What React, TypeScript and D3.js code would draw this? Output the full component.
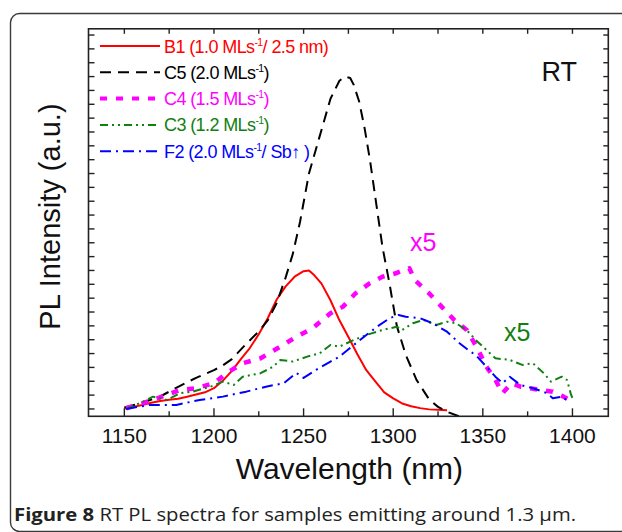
import React from "react";
import * as d3 from "d3";

// ---------- data (wavelength nm, PL intensity a.u.) ----------
const seriesNames = ["B1", "C5", "C4", "C3", "F2"];

const b1Data: [number, number][] = [
  [1150, 0.03], [1155, 0.15], [1160, 0.28], [1165, 0.45], [1170, 0.58], [1175, 0.66],
  [1180, 0.74], [1185, 0.88], [1190, 1.05], [1195, 1.2], [1200, 1.5], [1205, 2.05],
  [1210, 2.75], [1215, 3.6], [1220, 4.4], [1225, 5.4], [1230, 6.55], [1235, 7.9],
  [1240, 8.85], [1245, 9.55], [1250, 9.95], [1253, 10.0], [1256, 9.65], [1260, 9.05],
  [1265, 7.85], [1270, 6.4], [1275, 5.2], [1280, 3.95], [1285, 2.8], [1290, 2.0],
  [1295, 1.2], [1300, 0.77], [1305, 0.4], [1310, 0.2], [1315, 0.06], [1320, -0.03],
  [1325, -0.06], [1330, -0.1],
];

const c5Data: [number, number][] = [
  [1150, 0.1], [1160, 0.45], [1170, 0.9], [1180, 1.6], [1190, 2.25], [1200, 2.8],
  [1205, 3.15], [1210, 3.6], [1218, 4.7], [1225, 5.6], [1230, 6.4], [1235, 7.65],
  [1240, 9.5], [1244, 11.2], [1248, 13.5], [1253, 17.0], [1259, 19.7], [1265, 22.4],
  [1270, 23.7], [1273, 24.0], [1276, 23.9], [1278, 23.4], [1281, 22.2], [1284, 20.3],
  [1287, 18.0], [1291, 14.4], [1294, 11.7], [1298, 9.0], [1302, 6.0], [1307, 3.9],
  [1313, 2.1], [1320, 0.7], [1325, 0.15], [1330, -0.2], [1337, -0.55], [1343, -0.7],
];

const c4Data: [number, number][] = [
  [1151, 0.05], [1166, 0.65], [1181, 1.37], [1190, 1.5], [1200, 1.86], [1207, 2.58],
  [1216, 3.3], [1226, 3.66], [1237, 4.5], [1246, 5.22], [1255, 5.83], [1265, 6.91],
  [1272, 7.39], [1279, 8.35], [1287, 9.08], [1294, 9.55], [1301, 9.78], [1309, 10.16],
  [1312, 9.31], [1320, 8.35], [1327, 7.39], [1334, 6.43], [1341, 5.7], [1347, 4.38],
  [1352, 3.05], [1357, 2.1], [1361, 1.13], [1366, 1.86], [1371, 1.61], [1376, 1.5],
  [1382, 1.37], [1389, 1.25], [1395, 0.89], [1400, 0.53],
];

const c3Data: [number, number][] = [
  [1151, 0.0], [1160, 0.5], [1166, 0.89], [1174, 0.65], [1181, 1.13], [1188, 1.25],
  [1198, 1.61], [1205, 1.97], [1211, 1.73], [1216, 2.33], [1226, 2.58], [1233, 3.05],
  [1237, 3.54], [1244, 3.42], [1252, 3.78], [1259, 4.02], [1265, 4.62], [1270, 4.5],
  [1278, 4.98], [1285, 5.34], [1294, 5.7], [1302, 5.94], [1305, 5.7], [1311, 6.19],
  [1317, 6.43], [1324, 6.06], [1330, 6.3], [1335, 6.19], [1341, 5.7], [1346, 4.98],
  [1352, 4.26], [1357, 3.66], [1365, 3.54], [1372, 3.18], [1378, 3.3], [1384, 2.58],
  [1388, 1.97], [1394, 2.33], [1397, 2.09], [1399, 1.13], [1400, 0.77],
];

const f2Data: [number, number][] = [
  [1151, 0.0], [1164, 0.29], [1179, 0.29], [1192, 0.65], [1205, 0.89], [1218, 1.25],
  [1229, 1.61], [1239, 1.86], [1246, 2.6], [1250, 2.24], [1257, 2.82], [1265, 3.42],
  [1270, 3.78], [1278, 4.62], [1285, 5.34], [1291, 5.94], [1298, 6.55], [1303, 6.79],
  [1307, 6.66], [1315, 6.55], [1322, 6.19], [1330, 5.58], [1337, 4.74], [1343, 4.14],
  [1346, 3.9], [1352, 3.05], [1357, 2.33], [1361, 1.86], [1365, 2.33], [1371, 1.73],
  [1378, 1.5], [1386, 1.13], [1389, 0.77], [1394, 0.89], [1398, 0.53],
];

const xMajorTicks = [1150, 1200, 1250, 1300, 1350, 1400];
const xMinorTicks = [1175, 1225, 1275, 1325, 1375];
const yTickValues = [
  0, 1, 2, 3, 4, 5, 6, 7, 8, 9, 10, 11, 12, 13, 14, 15, 16, 17, 18, 19, 20, 21, 22, 23, 24, 25, 26, 27,
];

// ---------- layout ----------
const W = 622;
const H = 532;
const L = 88.5;
const R = 608.3;
const T = 28.8;
const B = 416.3;

const FONT = "'Liberation Sans', Arial, Helvetica, sans-serif";

type Style = { color: string; width: number; dash?: string };
const styles: Record<string, Style> = {
  B1: { color: "#ff0000", width: 2 },
  C5: { color: "#000000", width: 2, dash: "11,7" },
  C4: { color: "#ff00ff", width: 4.5, dash: "7,9" },
  C3: { color: "#118011", width: 2, dash: "8,4,2,4,2,4" },
  F2: { color: "#0000ff", width: 2, dash: "11,5,2,5" },
};

const dataByName: Record<string, [number, number][]> = {
  B1: b1Data,
  C5: c5Data,
  C4: c4Data,
  C3: c3Data,
  F2: f2Data,
};

export default function App() {
  const x = d3.scaleLinear().domain([1130, 1420]).range([L, R]);
  const y = d3.scaleLinear().domain([-0.53, 27.45]).range([B, T]);
  const line = d3
    .line<[number, number]>()
    .x((d) => x(d[0]))
    .y((d) => y(d[1]));

  const legendY0 = 46;
  const legendDy = 26.3;

  const legendLabel = (name: string) => {
    const sup = (
      <tspan fontSize={10.5} dy={-7}>
        -1
      </tspan>
    );
    const back = (s: string) => <tspan dy={7}>{s}</tspan>;
    switch (name) {
      case "B1":
        return (
          <>
            B1 (1.0 MLs{sup}
            {back("/ 2.5 nm)")}
          </>
        );
      case "C5":
        return (
          <>
            C5 (2.0 MLs{sup}
            {back(")")}
          </>
        );
      case "C4":
        return (
          <>
            C4 (1.5 MLs{sup}
            {back(")")}
          </>
        );
      case "C3":
        return (
          <>
            C3 (1.2 MLs{sup}
            {back(")")}
          </>
        );
      default:
        return (
          <>
            F2 (2.0 MLs{sup}
            {back("/ Sb\u2191 )")}
          </>
        );
    }
  };

  return (
    <svg
      width={W}
      height={H}
      style={{ position: "absolute", left: 0, top: 0, background: "#fff" }}
      fontFamily={FONT}
    >
      <rect x={0} y={0} width={W} height={H} fill="#fff" />
      {/* outer caption box */}
      <rect
        x={10.5}
        y={13.5}
        width={700}
        height={518}
        rx={9}
        fill="none"
        stroke="#3a3a3a"
        strokeWidth={1.4}
      />
      <defs>
        <clipPath id="plotClip">
          <rect x={L} y={T} width={R - L} height={B - T} />
        </clipPath>
      </defs>

      {/* series */}
      <g clipPath="url(#plotClip)">
        {seriesNames.map((n) => {
          const s = styles[n];
          return (
            <path
              key={n}
              d={line(dataByName[n]) || ""}
              fill="none"
              stroke={s.color}
              strokeWidth={s.width}
              strokeDasharray={s.dash}
              strokeLinejoin="round"
            />
          );
        })}
      </g>

      {/* frame */}
      <rect x={L} y={T} width={R - L} height={B - T} fill="none" stroke="#222" strokeWidth={1.6} />

      {/* x ticks bottom & top */}
      {xMajorTicks.map((t) => (
        <g key={"xM" + t}>
          <line x1={x(t)} x2={x(t)} y1={B} y2={B - 8} stroke="#222" strokeWidth={1.4} />
          <line x1={x(t)} x2={x(t)} y1={T} y2={T + 5} stroke="#222" strokeWidth={1.4} />
          <text x={x(t)} y={443} textAnchor="middle" fontSize={21} fill="#111">
            {t}
          </text>
        </g>
      ))}
      {xMinorTicks.map((t) => (
        <g key={"xm" + t}>
          <line x1={x(t)} x2={x(t)} y1={B} y2={B - 5} stroke="#222" strokeWidth={1.4} />
          <line x1={x(t)} x2={x(t)} y1={T} y2={T + 5} stroke="#222" strokeWidth={1.4} />
        </g>
      ))}
      {/* y ticks left & right */}
      {yTickValues.map((t) => (
        <g key={"y" + t}>
          <line x1={L} x2={L + 6} y1={y(t)} y2={y(t)} stroke="#222" strokeWidth={1.4} />
          <line x1={R} x2={R - 5} y1={y(t)} y2={y(t)} stroke="#222" strokeWidth={1.4} />
        </g>
      ))}

      {/* axis titles */}
      <text x={(L + R) / 2 + 1} y={479} textAnchor="middle" fontSize={30} fill="#111">
        Wavelength (nm)
      </text>
      <text
        transform={`translate(60, ${(T + B) / 2 - 6}) rotate(-90)`}
        textAnchor="middle"
        fontSize={29}
        fill="#111"
      >
        PL Intensity (a.u.)
      </text>

      {/* legend */}
      {seriesNames.map((n, i) => {
        const s = styles[n];
        const ly = legendY0 + i * legendDy;
        return (
          <g key={"lg" + n}>
            <line
              x1={100}
              x2={160}
              y1={ly}
              y2={ly}
              stroke={s.color}
              strokeWidth={s.width === 4.5 ? 4 : 2}
              strokeDasharray={s.dash}
            />
            <text x={164} y={ly + 6.5} fontSize={18} letterSpacing={-0.6} fill={s.color}>
              {legendLabel(n)}
            </text>
          </g>
        );
      })}

      {/* annotations */}
      <text x={577} y={81} textAnchor="end" fontSize={27} fill="#111">
        RT
      </text>
      <text x={410} y={251} fontSize={25} fill="#ff00ff">
        x5
      </text>
      <text x={504} y={341} fontSize={25} fill="#118011">
        x5
      </text>

      {/* caption */}
      <text
        x={14}
        y={521}
        fontSize={18.5}
        fill="#222"
        textLength={562}
        lengthAdjust="spacingAndGlyphs"
        fontFamily="'Open Sans', 'Noto Sans', sans-serif"
      >
        <tspan fontWeight="bold">Figure 8</tspan> RT PL spectra for samples emitting around 1.3 μm.
      </text>
    </svg>
  );
}
